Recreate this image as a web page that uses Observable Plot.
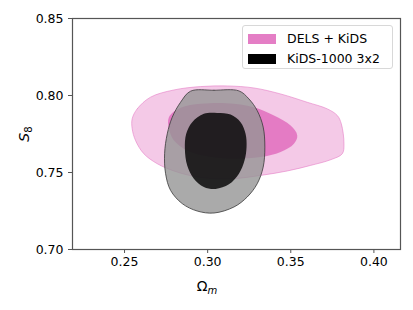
<!DOCTYPE html>
<html>
<head>
<meta charset="utf-8">
<script src="https://cdn.jsdelivr.net/npm/d3@7"></script>
<script src="https://cdn.jsdelivr.net/npm/@observablehq/plot@0.6"></script>
<style>
  html, body { margin: 0; padding: 0; background: #fff; }
  #wrap { position: relative; width: 413px; height: 310px; font-family: "DejaVu Sans", sans-serif; }
  #legend { position: absolute; left: 242px; top: 25px; width: 151px; height: 44px; border: 1px solid #d8d8d8; border-radius: 3px; background: rgba(255,255,255,0.85); box-sizing: border-box; font-size: 12.5px; color: #000; }
  .item { position: absolute; left: 5px; display: flex; align-items: center; }
  .sw { width: 28px; height: 10px; margin-right: 11px; }
</style>
</head>
<body>
<div id="wrap"></div>
<script>
// Axis settings
const xDomain = [0.2187, 0.416];
const yDomain = [0.70, 0.85];
const xTicks = [0.25, 0.30, 0.35, 0.40];
const yTicks = [0.70, 0.75, 0.80, 0.85];

// Series labels
const seriesNames = ["DELS + KiDS", "KiDS-1000 3x2"];

// DELS + KiDS outer (95%) contour: [Omega_m, S8]
const dels95 = [
  [0.2546, 0.7849], [0.2576, 0.7913], [0.2656, 0.7989], [0.2797, 0.8036], [0.2957, 0.8058],
  [0.3118, 0.8062], [0.3278, 0.8049], [0.3439, 0.8010], [0.3599, 0.7956], [0.3720, 0.7913],
  [0.3780, 0.7870], [0.3804, 0.7816], [0.3820, 0.7687], [0.3810, 0.7622], [0.3740, 0.7583],
  [0.3619, 0.7546], [0.3479, 0.7510], [0.3318, 0.7481], [0.3158, 0.7460], [0.3038, 0.7460],
  [0.2917, 0.7475], [0.2797, 0.7510], [0.2697, 0.7557], [0.2616, 0.7622], [0.2566, 0.7708],
  [0.2546, 0.7784]
];
// DELS + KiDS inner (68%) contour
const dels68 = [
  [0.2767, 0.7859], [0.2837, 0.7920], [0.2957, 0.7946], [0.3118, 0.7950], [0.3278, 0.7924],
  [0.3399, 0.7870], [0.3499, 0.7805], [0.3539, 0.7741], [0.3519, 0.7687], [0.3439, 0.7633],
  [0.3318, 0.7600], [0.3158, 0.7589], [0.2998, 0.7605], [0.2877, 0.7643], [0.2797, 0.7708],
  [0.2767, 0.7784]
];
// KiDS-1000 3x2 outer (95%) contour
const kids95 = [
  [0.2897, 0.8028], [0.3038, 0.8034], [0.3188, 0.8030], [0.3248, 0.7978], [0.3298, 0.7902],
  [0.3334, 0.7795], [0.3344, 0.7665], [0.3334, 0.7535], [0.3298, 0.7427], [0.3238, 0.7341],
  [0.3158, 0.7276], [0.3038, 0.7237], [0.2937, 0.7250], [0.2847, 0.7298], [0.2777, 0.7384],
  [0.2747, 0.7492], [0.2741, 0.7622], [0.2757, 0.7751], [0.2787, 0.7859], [0.2837, 0.7956]
];
// KiDS-1000 3x2 inner (68%) contour
const kids68 = [
  [0.3057, 0.7887], [0.3138, 0.7877], [0.3198, 0.7827], [0.3228, 0.7751], [0.3234, 0.7665],
  [0.3222, 0.7579], [0.3188, 0.7492], [0.3128, 0.7423], [0.3048, 0.7393], [0.2977, 0.7406],
  [0.2917, 0.7460], [0.2877, 0.7546], [0.2863, 0.7654], [0.2871, 0.7751], [0.2907, 0.7827],
  [0.2977, 0.7881]
];

const pink = "#e377c2";
const curve = "catmull-rom-closed";
const fs = "12.5px";

const chart = Plot.plot({
  width: 413,
  height: 310,
  marginLeft: 72,
  marginRight: 13,
  marginTop: 18,
  marginBottom: 61,
  style: { fontFamily: "DejaVu Sans, sans-serif", fontSize: fs, color: "#000", background: "transparent" },
  x: { domain: xDomain },
  y: { domain: yDomain },
  marks: [
    Plot.line(dels95, { x: d => d[0], y: d => d[1], curve, fill: pink, fillOpacity: 0.4, stroke: pink, strokeOpacity: 0.55, strokeWidth: 1 }),
    Plot.line(dels68, { x: d => d[0], y: d => d[1], curve, fill: pink, fillOpacity: 0.95, stroke: "none" }),
    Plot.line(kids95, { x: d => d[0], y: d => d[1], curve, fill: "#959595", fillOpacity: 0.8, stroke: "#3a3a3a", strokeOpacity: 0.8, strokeWidth: 1 }),
    Plot.line(kids68, { x: d => d[0], y: d => d[1], curve, fill: "#000", fillOpacity: 0.8, stroke: "none" }),
    Plot.frame({ stroke: "#555", strokeWidth: 1.2 }),
    Plot.axisX({ ticks: xTicks, tickFormat: d3.format(".2f"), tickSize: 4, tickPadding: 4, label: null, stroke: "#555", fontSize: fs }),
    Plot.axisY({ ticks: yTicks, tickFormat: d3.format(".2f"), tickSize: 4, tickPadding: 5, label: null, stroke: "#555", fontSize: fs })
  ]
});

const wrap = document.getElementById("wrap");
wrap.appendChild(chart);

// Axis titles with sub/superscripts
const svg = d3.select(chart);
const xl = svg.append("text").attr("x", 207).attr("y", 291).attr("text-anchor", "middle")
  .attr("font-size", "14px").attr("fill", "#000");
xl.append("tspan").text("Ω");
xl.append("tspan").attr("font-style", "italic").attr("font-size", "10px").attr("dy", "3").text("m");

const yl = svg.append("text").attr("transform", "translate(29,134) rotate(-90)").attr("text-anchor", "middle")
  .attr("font-size", "14px").attr("fill", "#000");
yl.append("tspan").attr("font-style", "italic").text("S");
yl.append("tspan").attr("font-size", "10px").attr("dy", "3").text("8");

// Legend
const legend = document.createElement("div");
legend.id = "legend";
const swatchColors = ["rgba(227,119,194,0.95)", "#000"];
seriesNames.forEach((name, i) => {
  const item = document.createElement("div");
  item.className = "item";
  item.style.top = (5 + i * 20) + "px";
  const sw = document.createElement("div");
  sw.className = "sw";
  sw.style.background = swatchColors[i];
  const t = document.createElement("span");
  t.textContent = name;
  item.appendChild(sw);
  item.appendChild(t);
  legend.appendChild(item);
});
wrap.appendChild(legend);
</script>
</body>
</html>
